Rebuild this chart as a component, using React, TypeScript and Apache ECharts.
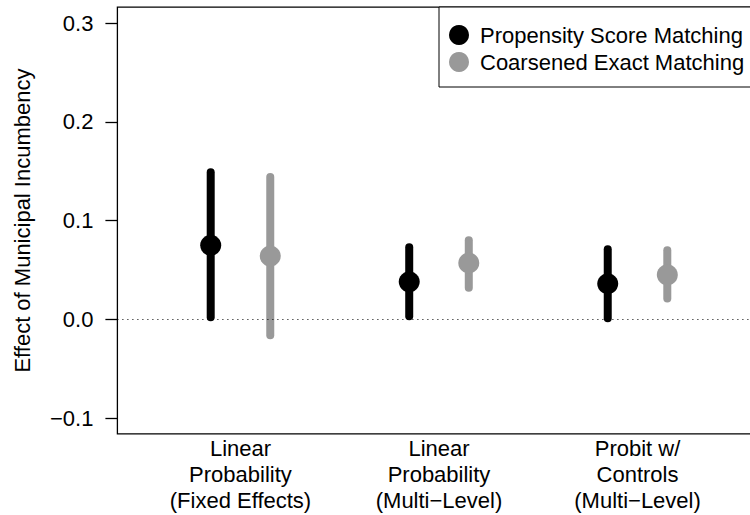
import { useEffect, useRef } from 'react';
import * as echarts from 'echarts';

// model categories (x positions 1, 2, 3)
const categories = [
  'Linear\nProbability\n(Fixed Effects)',
  'Linear\nProbability\n(Multi\u2212Level)',
  'Probit w/\nControls\n(Multi\u2212Level)',
];
const catPos = [1, 2, 3];
const offset = 0.15;

// Propensity Score Matching
const psmEst = [0.075, 0.038, 0.036];
const psmLow = [0.002, 0.003, 0.001];
const psmHigh = [0.149, 0.073, 0.071];

// Coarsened Exact Matching
const cemEst = [0.064, 0.057, 0.045];
const cemLow = [-0.016, 0.032, 0.021];
const cemHigh = [0.144, 0.080, 0.070];

const yTicks = [-0.1, 0, 0.1, 0.2, 0.3];

const FONT = 'Liberation Sans, Arial, Helvetica, sans-serif';

export default function App() {
  const chartRef = useRef<HTMLDivElement>(null);

  useEffect(() => {
    if (!chartRef.current) return;
    const chart = echarts.init(chartRef.current, null, { renderer: 'svg' });

    const errBar = (color: string) => (params: any, api: any) => {
      const x = api.value(0);
      const p1 = api.coord([x, api.value(1)]);
      const p2 = api.coord([x, api.value(2)]);
      return {
        type: 'line',
        shape: { x1: p1[0], y1: p1[1], x2: p2[0], y2: p2[1] },
        style: { stroke: color, lineWidth: 8, lineCap: 'round' },
      };
    };

    const option = {
      animation: false,
      backgroundColor: '#fff',
      textStyle: { fontFamily: FONT, color: '#000' },
      grid: {
        left: 117.4,
        top: 7.2,
        width: 643.2,
        height: 426.7,
        outerBoundsMode: 'none',
        containLabel: false,
        show: true,
        borderColor: '#000',
        borderWidth: 1.3,
        backgroundColor: 'transparent',
      },
      legend: {
        data: ['Propensity Score Matching', 'Coarsened Exact Matching'],
        orient: 'vertical',
        left: 439,
        top: 7,
        icon: 'circle',
        itemWidth: 20,
        itemHeight: 20,
        itemGap: 5,
        padding: [17, 40, 14, 10],
        borderColor: '#000',
        borderWidth: 1,
        backgroundColor: '#fff',
        selectedMode: false,
        textStyle: { fontSize: 22, fontFamily: FONT, color: '#000', lineHeight: 22, padding: [0, 0, 0, 6] },
      },
      xAxis: {
        type: 'value',
        min: 0.38,
        max: 3.62,
        splitLine: { show: false },
        axisLine: { show: false },
        axisTick: { show: false },
        axisLabel: {
          customValues: catPos,
          formatter: (v: number) => categories[Math.round(v) - 1] ?? '',
          fontSize: 22,
          lineHeight: 26,
          color: '#000',
          margin: 2,
          fontFamily: FONT,
        },
      },
      yAxis: {
        type: 'value',
        min: -0.116,
        max: 0.316,
        name: 'Effect of Municipal Incumbency',
        nameLocation: 'middle',
        nameRotate: 90,
        nameGap: 84,
        nameTextStyle: { fontSize: 22, color: '#000', fontFamily: FONT },
        splitLine: { show: false },
        axisLine: { show: false },
        axisTick: {
          show: true,
          customValues: yTicks,
          length: 12,
          lineStyle: { color: '#000', width: 1.3 },
        },
        axisLabel: {
          customValues: yTicks,
          formatter: (v: number) => (v < 0 ? '\u2212' + Math.abs(v).toFixed(1) : v.toFixed(1)),
          fontSize: 22,
          color: '#000',
          margin: 24,
          fontFamily: FONT,
        },
      },
      series: [
        {
          name: 'PSM interval',
          type: 'custom',
          renderItem: errBar('#000'),
          data: catPos.map((c, i) => [c - offset, psmLow[i], psmHigh[i]]),
          z: 2,
          markLine: {
            silent: true,
            symbol: 'none',
            label: { show: false },
            lineStyle: { color: '#000', width: 1, type: [1, 4] },
            data: [{ yAxis: 0 }],
          },
        },
        {
          name: 'CEM interval',
          type: 'custom',
          renderItem: errBar('#999999'),
          data: catPos.map((c, i) => [c + offset, cemLow[i], cemHigh[i]]),
          z: 2,
        },
        {
          name: 'Propensity Score Matching',
          type: 'scatter',
          symbol: 'circle',
          symbolSize: 21,
          itemStyle: { color: '#000', opacity: 1 },
          data: catPos.map((c, i) => [c - offset, psmEst[i]]),
          z: 3,
        },
        {
          name: 'Coarsened Exact Matching',
          type: 'scatter',
          symbol: 'circle',
          symbolSize: 21,
          itemStyle: { color: '#999999', opacity: 1 },
          data: catPos.map((c, i) => [c + offset, cemEst[i]]),
          z: 3,
        },
      ],
    };

    chart.setOption(option);
    return () => chart.dispose();
  }, []);

  return (
    <div
      ref={chartRef}
      style={{ position: 'absolute', left: 0, top: 0, width: '750px', height: '515px', background: '#fff' }}
    ></div>
  );
}
